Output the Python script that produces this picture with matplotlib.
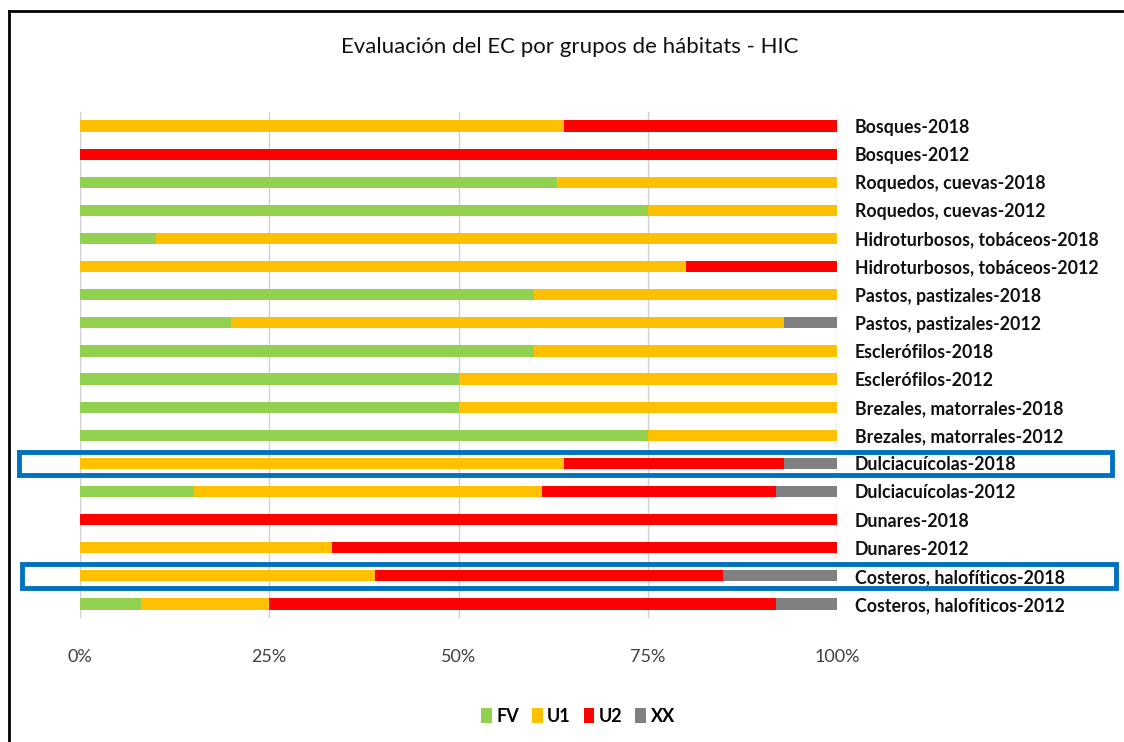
import matplotlib
matplotlib.use("Agg")
import matplotlib.pyplot as plt
import numpy as np
from matplotlib.patches import Rectangle
from matplotlib.lines import Line2D
from matplotlib.transforms import blended_transform_factory

plt.rcParams['font.family'] = ['Lato', 'DejaVu Sans']

categories = [
    "Bosques-2018", "Bosques-2012",
    "Roquedos, cuevas-2018", "Roquedos, cuevas-2012",
    "Hidroturbosos, tobáceos-2018", "Hidroturbosos, tobáceos-2012",
    "Pastos, pastizales-2018", "Pastos, pastizales-2012",
    "Esclerófilos-2018", "Esclerófilos-2012",
    "Brezales, matorrales-2018", "Brezales, matorrales-2012",
    "Dulciacuícolas-2018", "Dulciacuícolas-2012",
    "Dunares-2018", "Dunares-2012",
    "Costeros, halofíticos-2018", "Costeros, halofíticos-2012",
]
FV = [0, 0, 63, 75, 10, 0, 60, 20, 60, 50, 50, 75, 0, 15, 0, 0, 0, 8]
U1 = [64, 0, 37, 25, 90, 80, 40, 73, 40, 50, 50, 25, 64, 46, 0, 33.3, 39, 17]
U2 = [36, 100, 0, 0, 0, 20, 0, 0, 0, 0, 0, 0, 29, 31, 100, 66.7, 46, 67]
XX = [0, 0, 0, 0, 0, 0, 0, 7, 0, 0, 0, 0, 7, 8, 0, 0, 15, 8]
series_names = ["FV", "U1", "U2", "XX"]
colors = ["#92D050", "#FFC000", "#FF0000", "#808080"]
ticks = [0, 25, 50, 75, 100]
tick_labels = ["0%", "25%", "50%", "75%", "100%"]
highlighted = ["Dulciacuícolas-2018", "Costeros, halofíticos-2018"]

fig = plt.figure(figsize=(11.24, 7.42), dpi=100)
ax = fig.add_axes([80/1124, 1-618/742, (837-80)/1124, (618-112)/742])

y = np.arange(len(categories))
left = np.zeros(len(categories))
for name, vals, c in zip(series_names, [FV, U1, U2, XX], colors):
    vals = np.array(vals, dtype=float)
    ax.barh(y, vals, left=left, height=0.4, color=c, label=name, zorder=3)
    left += vals

ax.set_xlim(0, 100)
ax.set_ylim(len(categories) - 0.5, -0.5)
ax.set_xticks(ticks)
ax.set_xticklabels(tick_labels, fontsize=13, color="#404040")
ax.tick_params(axis='x', length=0, pad=22)
ax.set_yticks(y)
ax.set_yticklabels(categories, fontsize=12.8, fontweight='bold', color="#111111")
ax.yaxis.tick_right()
ax.tick_params(axis='y', length=0, pad=13)
for s in ax.spines.values():
    s.set_visible(False)
ax.grid(axis='x', color="#D0D0D0", linewidth=1, zorder=0)

fig.suptitle("Evaluación del EC por grupos de hábitats - HIC", x=570/1124, y=1-47/742,
             va='center', fontsize=16, color="#111111")

leg = fig.legend(loc='center', bbox_to_anchor=(578/1124, 1-716/742), ncol=4, frameon=False,
                 fontsize=13, handlelength=0.6, handleheight=0.9, handletextpad=0.25,
                 columnspacing=0.7)
for t in leg.get_texts():
    t.set_fontweight('bold')

# border lines (left and top)
fig.add_artist(Line2D([9/1124, 9/1124], [0, 1-11/742], transform=fig.transFigure,
                      color="black", linewidth=2))
fig.add_artist(Line2D([9/1124, 1122/1124], [1-11/742, 1-11/742], transform=fig.transFigure,
                      color="black", linewidth=2))

# highlight boxes
tr = blended_transform_factory(fig.transFigure, ax.transData)
for name, (x0, x1) in zip(highlighted, [(19/1124, 1112/1124), (22/1124, 1116/1124)]):
    i = categories.index(name)
    r = Rectangle((x0, i - 0.42), x1 - x0, 0.84, transform=tr, fill=False,
                  edgecolor="#0070C0", linewidth=3.5, clip_on=False, zorder=10)
    fig.add_artist(r)

fig.savefig("out.png", dpi=100)
